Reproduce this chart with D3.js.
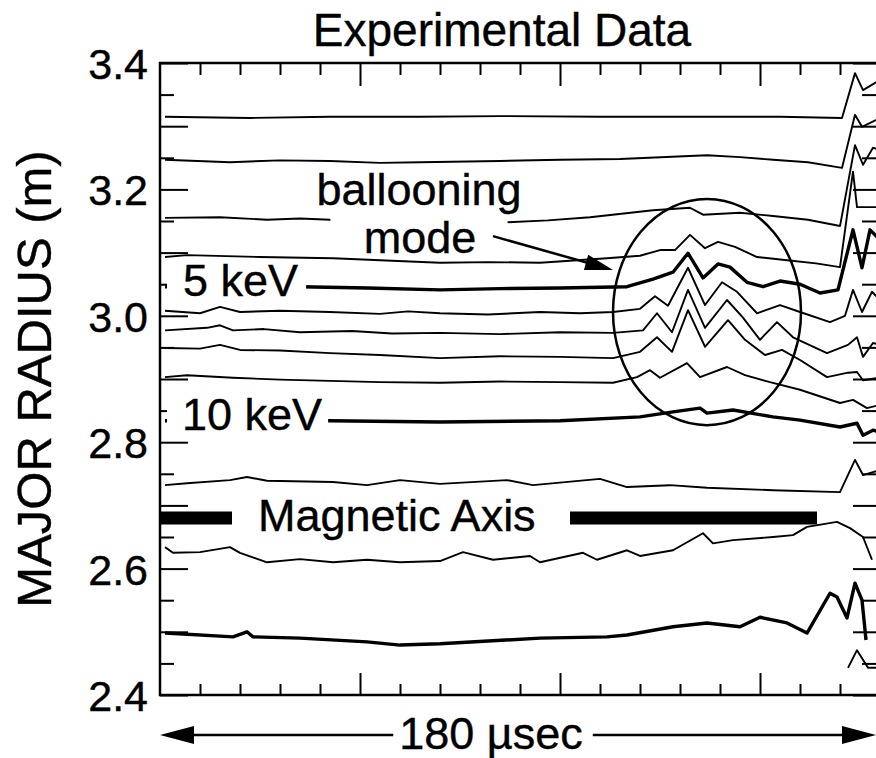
<!DOCTYPE html>
<html lang="en">

<head>
    <meta charset="UTF-8">
    <title>Experimental Data</title>
    <script src="https://d3js.org/d3.v7.min.js"></script>
    <style>
        body {
            margin: 0;
            padding: 0;
            background: #fff;
        }

        svg {
            display: block;
        }

        text {
            font-family: "Liberation Sans", Arial, Helvetica, sans-serif;
            fill: #000;
            stroke: #000;
            stroke-width: 0.4;
        }

        .tick line {
            stroke: #000;
            stroke-width: 2;
        }
    </style>
</head>

<body>

    <svg id="chart" width="876" height="758"></svg>

    <script>
        // traces: [time (usec), major radius (m)], top to bottom
        const trace1 = [[1.25, 3.315], [22.5, 3.313], [42.5, 3.315], [65, 3.315], [85, 3.316], [110, 3.315], [135, 3.315], [155, 3.315], [170.5, 3.313], [173.75, 3.384], [175.75, 3.357], [180, 3.373]];
        const trace2 = [[1.25, 3.247], [17.5, 3.243], [30, 3.246], [42.5, 3.245], [55, 3.242], [65, 3.243], [85, 3.245], [100, 3.247], [115, 3.248], [136.75, 3.254], [145, 3.251], [153.25, 3.247], [162, 3.243], [170.5, 3.234], [173.75, 3.318], [175.5, 3.299], [180, 3.313]];
        const trace3 = [[1.25, 3.155], [15, 3.156], [26.75, 3.152], [35, 3.154], [42.5, 3.152], [65, 3.150], [86.75, 3.148], [97, 3.151], [107.5, 3.156], [123.25, 3.167], [132.5, 3.171], [135.75, 3.160], [145, 3.163], [153.25, 3.158], [162, 3.152], [170, 3.142], [173.75, 3.270], [175.75, 3.239], [178.25, 3.266], [180, 3.262]];
        const trace4 = [[1.25, 3.093], [6.75, 3.096], [25, 3.093], [43.25, 3.091], [58, 3.087], [70, 3.084], [82, 3.085], [95, 3.084], [111.75, 3.091], [120, 3.095], [125, 3.104], [128.75, 3.104], [132.5, 3.128], [136.25, 3.107], [139.5, 3.117], [143.75, 3.109], [149.25, 3.093], [156.75, 3.088], [164, 3.083], [170, 3.077], [173.25, 3.228], [174.25, 3.172], [180, 3.172]];
        const trace5keV = [[1.25, 3.046], [35, 3.046], [52, 3.044], [70, 3.041], [85, 3.043], [100, 3.044], [116.75, 3.046], [123.25, 3.058], [128.25, 3.069], [132, 3.099], [135.75, 3.060], [139.5, 3.082], [142.5, 3.077], [146.75, 3.053], [150.75, 3.046], [155, 3.055], [160, 3.050], [165, 3.036], [169.5, 3.041], [173.25, 3.136], [175.5, 3.076], [177.5, 3.136], [180, 3.120]];
        const trace6 = [[1.25, 3.008], [10, 3.004], [15, 3.014], [20, 3.006], [30, 3.008], [42.5, 3.006], [55, 3.003], [62, 3.007], [70, 3.004], [82, 3.002], [95, 3.006], [105, 3.004], [113.25, 3.006], [120, 3.011], [123.75, 3.031], [127, 3.016], [132, 3.076], [136.25, 3.017], [140.5, 3.053], [144.25, 3.038], [149.25, 3.004], [155, 3.017], [160, 3.006], [167.5, 2.990], [171.25, 3.000], [173.25, 3.041], [175.5, 3.006], [178, 3.038], [180, 3.025]];
        const trace7 = [[1.25, 2.977], [11.75, 2.981], [15, 2.985], [18.25, 2.977], [26, 2.979], [35, 2.974], [48, 2.976], [58, 2.972], [70, 2.973], [85, 2.971], [100, 2.974], [113.25, 2.973], [120.75, 2.977], [124.25, 3.004], [128, 2.974], [132, 3.041], [136.25, 2.981], [141.75, 3.025], [145.75, 2.997], [150, 2.962], [154.25, 2.990], [158.25, 2.966], [166.75, 2.941], [172, 2.954], [174.25, 2.966], [175.75, 2.935], [178.25, 2.957], [180, 2.954]];
        const trace8 = [[1.25, 2.949], [10, 2.948], [15, 2.954], [20, 2.946], [30, 2.945], [42.5, 2.941], [55, 2.938], [70, 2.933], [85, 2.936], [100, 2.935], [113.25, 2.933], [120, 2.943], [124.25, 2.966], [128, 2.943], [132, 3.009], [136.25, 2.951], [142, 2.993], [146.25, 2.962], [151.25, 2.938], [155.5, 2.946], [160, 2.930], [166.75, 2.903], [172, 2.910], [174.25, 2.911], [175.75, 2.898], [180, 2.902]];
        const trace9 = [[1.25, 2.903], [6.75, 2.906], [18.25, 2.902], [30, 2.899], [42.5, 2.897], [55, 2.895], [70, 2.894], [85, 2.896], [100, 2.895], [113.25, 2.894], [119.25, 2.903], [122.5, 2.914], [125, 2.902], [131.75, 2.925], [135, 2.903], [141.75, 2.919], [146.25, 2.906], [152.5, 2.895], [160, 2.883], [170, 2.862], [173.25, 2.867], [176.75, 2.854], [180, 2.859]];
        const trace10keV = [[1.25, 2.834], [42.5, 2.834], [70, 2.832], [100, 2.834], [120, 2.840], [128.25, 2.848], [135, 2.854], [136.75, 2.846], [143.25, 2.851], [153.25, 2.840], [160, 2.835], [170, 2.824], [174.25, 2.830], [175.75, 2.811], [178.25, 2.819], [180, 2.816]];
        const trace11 = [[1.25, 2.732], [6.75, 2.735], [17.5, 2.740], [21.75, 2.745], [26.75, 2.739], [43.25, 2.737], [51.75, 2.732], [60, 2.740], [70, 2.734], [86.75, 2.740], [93.25, 2.732], [110, 2.742], [116.75, 2.729], [127.5, 2.732], [136.75, 2.728], [153.25, 2.724], [170, 2.721], [173.75, 2.772], [175.75, 2.748], [180, 2.756]];
        const trace12 = [[1.25, 2.634], [3.25, 2.625], [10, 2.626], [17.5, 2.634], [20, 2.625], [26.75, 2.610], [35, 2.615], [43.25, 2.610], [51.75, 2.614], [60, 2.610], [70, 2.612], [75.75, 2.626], [83.25, 2.614], [92.5, 2.620], [95, 2.610], [105.75, 2.625], [109.25, 2.614], [116.75, 2.629], [120, 2.620], [128.25, 2.629], [135.75, 2.656], [138.25, 2.640], [143.25, 2.645], [153.25, 2.650], [158.25, 2.653], [161.75, 2.666], [169.25, 2.674], [172.5, 2.664], [175.75, 2.650], [178, 2.614]];
        const trace13 = [[1.25, 2.498], [18.25, 2.492], [21.75, 2.500], [23.25, 2.492], [35, 2.490], [51.75, 2.484], [60, 2.479], [70, 2.481], [95, 2.490], [111.75, 2.492], [116.75, 2.495], [128.25, 2.508], [136.75, 2.514], [145, 2.508], [150, 2.523], [156.75, 2.514], [161.75, 2.498], [167.5, 2.561], [169.25, 2.555], [171.75, 2.522], [173.75, 2.577], [175.5, 2.550], [176.5, 2.487]];
        const trace14 = [[172, 2.443], [174.25, 2.471], [177, 2.443], [179.5, 2.443]];

        const thinTraces = [trace1, trace2, trace3, trace4, trace6, trace7, trace8, trace9, trace11, trace12, trace14];
        const thickTraces = [trace5keV, trace10keV, trace13];

        // axis ticks
        const yMajorTicks = [2.4, 2.5, 2.6, 2.7, 2.8, 2.9, 3.0, 3.1, 3.2, 3.3, 3.4];
        const yMinorTicks = [2.45, 2.55, 2.65, 2.75, 2.85, 2.95, 3.05, 3.15, 3.25, 3.35];
        const yTickLabels = [2.4, 2.6, 2.8, 3.0, 3.2, 3.4];
        const xMajorTicks = [50, 100, 150];
        const xMinorTicks = [10, 20, 30, 40, 60, 70, 80, 90, 110, 120, 130, 140, 160, 170];

        // annotations
        const magneticAxisR = 2.68;
        const magneticAxisBars = [[0, 18], [102.5, 164.25]];
        const balloonCircle = { t: 136.75, r: 3.006, dt: 23.5, dr: 0.179 };
        const balloonArrow = [[83.25, 3.126], [113.25, 3.0725]];

        const svg = d3.select("#chart");

        const x = d3.scaleLinear().domain([0, 180]).range([160, 880]);
        const y = d3.scaleLinear().domain([2.4, 3.4]).range([695, 63]);

        const noLabel = () => "";

        // left axis, long ticks with labels
        svg.append("g")
            .attr("transform", `translate(${x(0)},0)`)
            .call(d3.axisLeft(y).tickValues(yMajorTicks).tickSize(-28).tickPadding(12)
                .tickFormat(d => yTickLabels.some(v => Math.abs(v - d) < 1e-9) ? d3.format(".1f")(d) : ""))
            .call(g => g.select(".domain").remove())
            .call(g => g.selectAll("text").attr("font-size", 43).attr("dy", "0.36em"));

        svg.append("g")
            .attr("transform", `translate(${x(0)},0)`)
            .call(d3.axisLeft(y).tickValues(yMinorTicks).tickSize(-14).tickFormat(noLabel))
            .call(g => g.select(".domain").remove());

        // right axis
        svg.append("g")
            .attr("transform", `translate(${x(180)},0)`)
            .call(d3.axisRight(y).tickValues(yMajorTicks).tickSize(-27).tickFormat(noLabel))
            .call(g => g.select(".domain").remove());
        svg.append("g")
            .attr("transform", `translate(${x(180)},0)`)
            .call(d3.axisRight(y).tickValues(yMinorTicks).tickSize(-18).tickFormat(noLabel))
            .call(g => g.select(".domain").remove());

        // bottom and top axes
        svg.append("g")
            .attr("transform", `translate(0,${y(2.4)})`)
            .call(d3.axisBottom(x).tickValues(xMinorTicks).tickSize(-11).tickFormat(noLabel))
            .call(g => g.select(".domain").remove());
        svg.append("g")
            .attr("transform", `translate(0,${y(2.4)})`)
            .call(d3.axisBottom(x).tickValues(xMajorTicks).tickSize(-22).tickFormat(noLabel))
            .call(g => g.select(".domain").remove());
        svg.append("g")
            .attr("transform", `translate(0,${y(3.4)})`)
            .call(d3.axisTop(x).tickValues(xMinorTicks).tickSize(-12).tickFormat(noLabel))
            .call(g => g.select(".domain").remove());
        svg.append("g")
            .attr("transform", `translate(0,${y(3.4)})`)
            .call(d3.axisTop(x).tickValues(xMajorTicks).tickSize(-23).tickFormat(noLabel))
            .call(g => g.select(".domain").remove());

        svg.append("rect")
            .attr("x", x(0))
            .attr("y", y(3.4))
            .attr("width", x(180) - x(0))
            .attr("height", y(2.4) - y(3.4))
            .attr("fill", "none")
            .attr("stroke", "#000")
            .attr("stroke-width", 2.5);

        // traces
        const line = d3.line().x(d => x(d[0])).y(d => y(d[1]));

        svg.append("g").selectAll("path")
            .data(thinTraces)
            .enter().append("path")
            .attr("d", line)
            .attr("fill", "none")
            .attr("stroke", "#000")
            .attr("stroke-width", 1.9)
            .attr("stroke-linejoin", "round");

        svg.append("g").selectAll("path")
            .data(thickTraces)
            .enter().append("path")
            .attr("d", line)
            .attr("fill", "none")
            .attr("stroke", "#000")
            .attr("stroke-width", 3.4)
            .attr("stroke-linejoin", "round");

        // ballooning mode circle
        svg.append("ellipse")
            .attr("cx", x(balloonCircle.t))
            .attr("cy", y(balloonCircle.r))
            .attr("rx", x(balloonCircle.t + balloonCircle.dt) - x(balloonCircle.t))
            .attr("ry", y(balloonCircle.r - balloonCircle.dr) - y(balloonCircle.r))
            .attr("fill", "none")
            .attr("stroke", "#000")
            .attr("stroke-width", 2.5);

        // labels sit on white boxes that hide the traces behind them
        function boxedLabel(str, tx, baseline, padLeft, padRight) {
            const g = svg.append("g");
            const box = g.append("rect").attr("fill", "#fff");
            const t = g.append("text")
                .attr("x", tx)
                .attr("y", baseline)
                .attr("font-size", 45)
                .text(str);
            const b = t.node().getBBox();
            box.attr("x", b.x - padLeft)
                .attr("y", baseline - 31)
                .attr("width", b.width + padLeft + padRight)
                .attr("height", 35);
        }

        boxedLabel("5 keV", x(5.75), y(3.031), 16, 8);
        boxedLabel("10 keV", x(5.5), y(2.819), 15, 6);

        const balloonG = svg.append("g");
        const balloonBox = balloonG.append("rect").attr("fill", "#fff");
        const lab1 = balloonG.append("text")
            .attr("x", x(64.75))
            .attr("y", y(3.175))
            .attr("text-anchor", "middle")
            .attr("font-size", 45)
            .text("ballooning");
        balloonG.append("text")
            .attr("x", x(65))
            .attr("y", y(3.099))
            .attr("text-anchor", "middle")
            .attr("font-size", 45)
            .text("mode");
        const bb = lab1.node().getBBox();
        balloonBox.attr("x", bb.x + 14)
            .attr("y", y(3.175) - 32)
            .attr("width", bb.width - 28)
            .attr("height", y(3.099) - y(3.175) + 34);

        svg.append("text")
            .attr("x", x(24.5))
            .attr("y", y(2.66))
            .attr("font-size", 45)
            .text("Magnetic Axis");

        svg.selectAll(".magbar")
            .data(magneticAxisBars)
            .enter().append("line")
            .attr("class", "magbar")
            .attr("x1", d => x(d[0]))
            .attr("x2", d => x(d[1]))
            .attr("y1", y(magneticAxisR))
            .attr("y2", y(magneticAxisR))
            .attr("stroke", "#000")
            .attr("stroke-width", 13);

        // arrow from the label to the circle
        function arrowHead(tipX, tipY, angle, len, half) {
            const bx = tipX - len * Math.cos(angle);
            const by = tipY - len * Math.sin(angle);
            const nx = -Math.sin(angle) * half;
            const ny = Math.cos(angle) * half;
            return [[tipX, tipY], [bx + nx, by + ny], [bx - nx, by - ny]];
        }

        const a0 = [x(balloonArrow[0][0]), y(balloonArrow[0][1])];
        const a1 = [x(balloonArrow[1][0]), y(balloonArrow[1][1])];
        const ang = Math.atan2(a1[1] - a0[1], a1[0] - a0[0]);
        svg.append("line")
            .attr("x1", a0[0]).attr("y1", a0[1])
            .attr("x2", a1[0] - 20 * Math.cos(ang)).attr("y2", a1[1] - 20 * Math.sin(ang))
            .attr("stroke", "#000")
            .attr("stroke-width", 2.5);
        svg.append("polygon")
            .attr("points", arrowHead(a1[0], a1[1], ang, 28, 8).join(" "))
            .attr("fill", "#000");

        // titles
        svg.append("text")
            .attr("x", 502)
            .attr("y", 46)
            .attr("text-anchor", "middle")
            .attr("font-size", 46)
            .text("Experimental Data");

        svg.append("text")
            .attr("transform", "translate(51,379) rotate(-90)")
            .attr("text-anchor", "middle")
            .attr("font-size", 49)
            .text("MAJOR RADIUS (m)");

        // 180 usec span under the x axis
        const spanY = 735;
        const spanLabel = svg.append("text")
            .attr("x", 491)
            .attr("y", 749)
            .attr("text-anchor", "middle")
            .attr("font-size", 45)
            .text("180 \u00b5sec");
        const sb = spanLabel.node().getBBox();
        const leftTip = x(0), rightTip = x(179);

        svg.append("line")
            .attr("x1", leftTip + 20).attr("x2", sb.x - 6)
            .attr("y1", spanY).attr("y2", spanY)
            .attr("stroke", "#000").attr("stroke-width", 2.5);
        svg.append("line")
            .attr("x1", sb.x + sb.width + 10).attr("x2", rightTip - 20)
            .attr("y1", spanY).attr("y2", spanY)
            .attr("stroke", "#000").attr("stroke-width", 2.5);
        svg.append("polygon")
            .attr("points", arrowHead(leftTip, spanY, Math.PI, 34, 9).join(" "))
            .attr("fill", "#000");
        svg.append("polygon")
            .attr("points", arrowHead(rightTip, spanY, 0, 34, 9).join(" "))
            .attr("fill", "#000");
    </script>

</body>

</html>
